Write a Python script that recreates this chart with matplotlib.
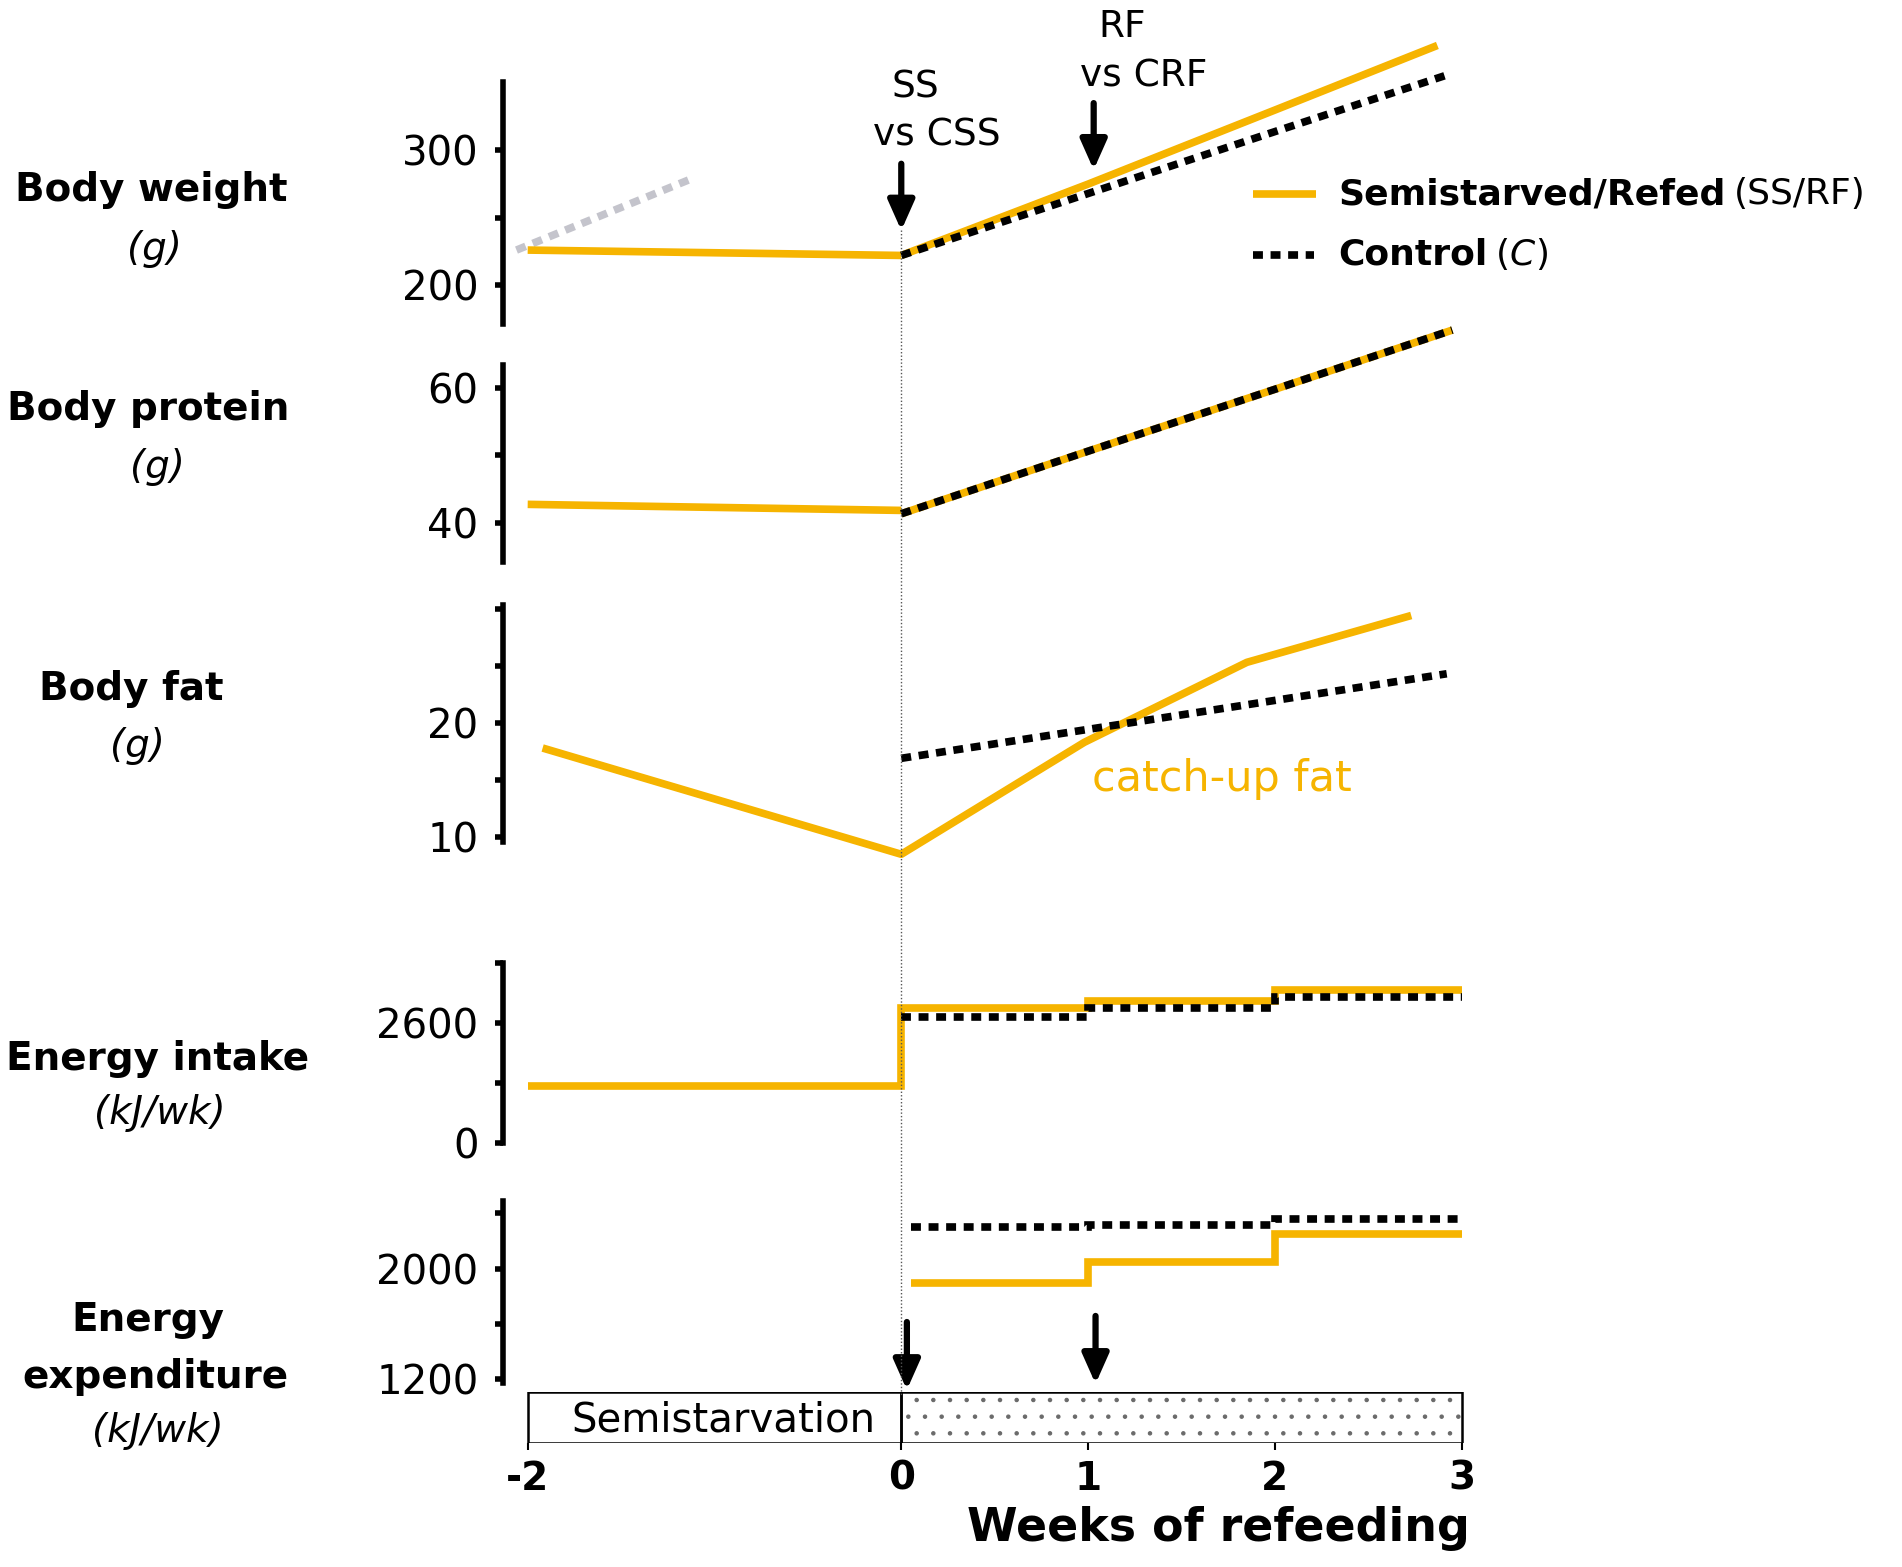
import matplotlib
matplotlib.use('Agg')
import matplotlib.pyplot as plt
from matplotlib.patches import Rectangle
from matplotlib.lines import Line2D
import matplotlib.transforms as mtransforms

plt.rcParams['font.family'] = ['DejaVu Sans']
plt.rcParams['hatch.linewidth'] = 0.8

ORANGE = '#f6b400'

# ---------------- data ----------------
bw_pre_weeks = [-2, 0]
bw_pre_ss = [226, 222]
bw_growth_weeks = [-2.06, -1.14]
bw_growth = [226, 278]
bw_ref_weeks = [0, 1, 2, 2.87]
bw_ref_ss = [222, 275, 330, 378]
bw_ctrl_weeks = [0, 1, 2, 2.92]
bw_ctrl = [222, 268, 314, 356]

bp_pre_weeks = [-2, 0]
bp_pre_ss = [42.7, 41.8]
bp_ref_weeks = [0, 1, 2, 2.95]
bp_ref_ss = [41.3, 50.6, 59.8, 68.6]
bp_ctrl = [41.3, 50.6, 59.8, 68.6]

bf_ss_weeks = [-1.92, 0, 0.98, 1.85, 2.73]
bf_ss = [17.8, 8.5, 18.3, 25.3, 29.4]
bf_ctrl_weeks = [0, 2.92]
bf_ctrl = [16.9, 24.3]

ei_ss_edges = [-2, 0, 1, 2, 3]
ei_ss = [1230, 2932, 3078, 3316]
ei_ctrl_edges = [0, 1, 2, 3]
ei_ctrl = [2733, 2918, 3157]

ee_edges = [0.05, 1, 2, 3]
ee_ss = [1894, 2049, 2250]
ee_ctrl = [2299, 2316, 2360]

x_ticks = [-2, 0, 1, 2, 3]
x_ticklabels = ['-2', '0', '1', '2', '3']

row_labels = [
    ('Body weight', '(g)'),
    ('Body protein', '(g)'),
    ('Body fat', '(g)'),
    ('Energy intake', '(kJ/wk)'),
]

# ---------------- layout helpers ----------------
W, H = 1568.0, 1292.0
def fx(px):
    return px / W
def fy(py):
    return 1 - py / H

XMIN, XMAX = -2.13, 3.065
LEFT, RIGHT = 415, 1215

fig = plt.figure(figsize=(19.02, 15.67), dpi=100)

def panel(top, bottom, ylim, ticks, labels):
    ax = fig.add_axes([fx(LEFT), fy(bottom), fx(RIGHT) - fx(LEFT), (bottom - top) / H])
    ax.set_xlim(XMIN, XMAX)
    ax.set_ylim(*ylim)
    for s in ['top', 'right', 'bottom']:
        ax.spines[s].set_visible(False)
    ax.spines['left'].set_linewidth(4)
    ax.set_yticks(ticks)
    ax.set_yticklabels(labels)
    ax.tick_params(axis='y', length=6, width=4, labelsize=29, pad=12)
    ax.set_xticks([])
    ax.patch.set_visible(False)
    return ax

LW = 5.5
DOT = (0, (1.3, 1.0))

# Panel 1: body weight
ax1 = panel(68, 267, (171.2, 350.5), [200, 250, 300], ['200', '', '300'])
ax1.plot(bw_growth_weeks, bw_growth, color='#c4c4cc', lw=LW, ls=DOT, clip_on=False)
ax1.plot(bw_pre_weeks, bw_pre_ss, color=ORANGE, lw=LW, solid_capstyle='butt')
ax1.plot(bw_ref_weeks, bw_ref_ss, color=ORANGE, lw=LW, solid_capstyle='butt', clip_on=False)
ax1.plot(bw_ctrl_weeks, bw_ctrl, color='black', lw=LW, ls=DOT, clip_on=False)

# Panel 2: body protein
ax2 = panel(301, 463, (34.2, 63.4), [40, 50, 60], ['40', '', '60'])
ax2.plot(bp_pre_weeks, bp_pre_ss, color=ORANGE, lw=LW, solid_capstyle='butt')
ax2.plot(bp_ref_weeks, bp_ref_ss, color=ORANGE, lw=LW, solid_capstyle='butt', clip_on=False)
ax2.plot(bp_ref_weeks, bp_ctrl, color='black', lw=LW, ls=DOT, clip_on=False)

# Panel 3: body fat
ax3 = panel(499, 694, (9.6, 30.3), [10, 15, 20, 25, 30], ['10', '', '20', '', ''])
ax3.plot(bf_ss_weeks, bf_ss, color=ORANGE, lw=LW, solid_capstyle='butt', clip_on=False)
ax3.plot(bf_ctrl_weeks, bf_ctrl, color='black', lw=LW, ls=DOT, clip_on=False)
ax3.text(1.02, 15.1, 'catch-up fat', color=ORANGE, fontsize=31, ha='left', va='center')

# Panel 4: energy intake
ax4 = panel(794, 942, (0, 3900), [0, 1300, 2600, 3900], ['0', '', '2600', ''])
ax4.stairs(ei_ss, ei_ss_edges, baseline=None, color=ORANGE, lw=LW, clip_on=False)
ax4.stairs(ei_ctrl, ei_ctrl_edges, baseline=None, color='black', lw=LW, ls=DOT, clip_on=False)

# Panel 5: energy expenditure
ax5 = panel(990, 1140, (1175, 2490), [1200, 1600, 2000, 2400], ['1200', '', '2000', ''])
ax5.stairs(ee_ss, ee_edges, baseline=None, color=ORANGE, lw=LW, clip_on=False)
ax5.stairs(ee_ctrl, ee_edges, baseline=None, color='black', lw=LW, ls=DOT, clip_on=False)

# Bottom bar with x axis
axb = fig.add_axes([fx(LEFT), fy(1190), fx(RIGHT) - fx(LEFT), (1190 - 1148) / H])
axb.set_xlim(XMIN, XMAX)
axb.set_ylim(0, 1)
for s in axb.spines.values():
    s.set_visible(False)
axb.patch.set_visible(False)
axb.set_yticks([])
axb.set_xticks(x_ticks)
axb.set_xticklabels(x_ticklabels, fontsize=28, fontweight='bold')
axb.tick_params(axis='x', length=5, width=1.5, pad=7)
axb.add_patch(Rectangle((x_ticks[1], 0), x_ticks[-1] - x_ticks[1], 1, facecolor='white',
                        edgecolor='#6a6a6a', lw=0, hatch='.'))
axb.add_patch(Rectangle((x_ticks[0], 0), x_ticks[1] - x_ticks[0], 1, facecolor='none',
                        edgecolor='black', lw=1.8))
axb.add_patch(Rectangle((x_ticks[1], 0), x_ticks[-1] - x_ticks[1], 1, facecolor='none',
                        edgecolor='black', lw=1.8))
axb.text(-0.95, 0.45, 'Semistarvation', fontsize=29, ha='center', va='center')
fig.text(fx(1212), fy(1260), 'Weeks of refeeding', fontsize=33, fontweight='bold',
         ha='right', va='center')

# Vertical dotted reference line at week 0
trans = mtransforms.blended_transform_factory(axb.transData, fig.transFigure)
fig.add_artist(Line2D([0, 0], [fy(190), fy(1150)], transform=trans, color='#555555',
                      lw=1.0, ls=(0, (1, 1.5))))

# Arrows
def arrow(x, y_tail, y_tip):
    axb.annotate('', xy=(x, fy(y_tip)), xytext=(x, fy(y_tail)), xycoords=trans,
                 textcoords=trans, annotation_clip=False,
                 arrowprops=dict(arrowstyle='-|>,head_length=0.9,head_width=0.4',
                                 mutation_scale=20, lw=4.5, color='black',
                                 shrinkA=0, shrinkB=0))

arrow(0, 135, 190)
arrow(1.03, 85, 140)
arrow(0.03, 1090, 1146)
arrow(1.04, 1085, 1141)

fig.text(fx(755), fy(72), 'SS', fontsize=27, ha='center', va='center')
fig.text(fx(772), fy(112), 'vs CSS', fontsize=27, ha='center', va='center')
fig.text(fx(925), fy(22), 'RF', fontsize=27, ha='center', va='center')
fig.text(fx(943), fy(63), 'vs CRF', fontsize=27, ha='center', va='center')

# Row labels
row_pos = [(125, 157, 127, 205), (122, 337, 130, 385), (108, 568, 113, 615),
           (130, 873, 132, 918)]
for (name, unit), (x1, y1, x2, y2) in zip(row_labels, row_pos):
    fig.text(fx(x1), fy(y1), name, fontsize=28, fontweight='bold', ha='center', va='center')
    fig.text(fx(x2), fy(y2), unit, fontsize=28, style='italic', ha='center', va='center')
fig.text(fx(122), fy(1088), 'Energy', fontsize=28, fontweight='bold', ha='center', va='center')
fig.text(fx(128), fy(1135), 'expenditure', fontsize=28, fontweight='bold', ha='center', va='center')
fig.text(fx(130), fy(1180), '(kJ/wk)', fontsize=28, style='italic', ha='center', va='center')

# Legend (manual)
fig.add_artist(Line2D([fx(1033), fx(1085)], [fy(160), fy(160)], color=ORANGE, lw=LW,
                      solid_capstyle='butt'))
fig.add_artist(Line2D([fx(1033), fx(1083)], [fy(210), fy(210)], color='black', lw=LW, ls=DOT))

def chain(x, y, parts):
    t = fig.text(x, y, parts[0][0], ha='left', va='center', **parts[0][1])
    for s, kw in parts[1:]:
        t = ax1.annotate(s, xy=(1, 0.5), xycoords=t, xytext=(kw.pop('gap', 0), 0),
                         textcoords='offset points', ha='left', va='center',
                         annotation_clip=False, **kw)
    return t

chain(fx(1103), fy(160), [('Semistarved/Refed', dict(fontsize=26, fontweight='bold')),
                          ('(SS/RF)', dict(fontsize=26, gap=6))])
chain(fx(1103), fy(210), [('Control', dict(fontsize=26, fontweight='bold')),
                          ('(', dict(fontsize=26, gap=6)),
                          ('C', dict(fontsize=26, style='italic')),
                          (')', dict(fontsize=26))])

fig.savefig('out.png', dpi=100, facecolor='white')
